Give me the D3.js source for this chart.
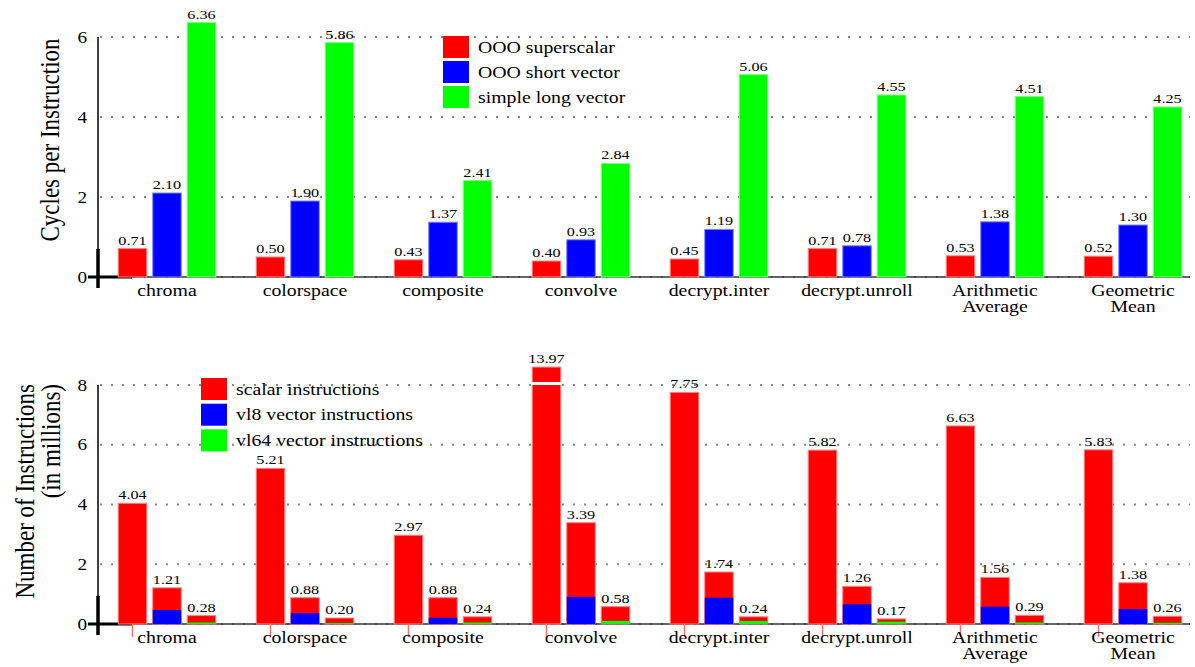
<!DOCTYPE html>
<html><head><meta charset="utf-8">
<script src="https://cdn.jsdelivr.net/npm/d3@7"></script>
<style>
body{margin:0;background:#fff;}
svg text{font-family:"Liberation Serif","Times New Roman",serif;fill:#000;}
</style></head>
<body><svg id="c" width="1195" height="667"></svg>
<script>
// ---------- data ----------
const categories = ["chroma","colorspace","composite","convolve","decrypt.inter","decrypt.unroll","Arithmetic\nAverage","Geometric\nMean"];

const cpiSeries = ["OOO superscalar","OOO short vector","simple long vector"];
const cpiSuperscalar = [0.71,0.50,0.43,0.40,0.45,0.71,0.53,0.52];
const cpiShortVector = [2.10,1.90,1.37,0.93,1.19,0.78,1.38,1.30];
const cpiLongVector  = [6.36,5.86,2.41,2.84,5.06,4.55,4.51,4.25];
const cpiTicks = [0,2,4,6];

const instLegend = ["scalar instructions","vl8 vector instructions","vl64 vector instructions"];
const instScalarOnly = [4.04,5.21,2.97,13.97,7.75,5.82,6.63,5.83];
const instVl8Total   = [1.21,0.88,0.88,3.39,1.74,1.26,1.56,1.38];
const instVl8Vector  = [0.47,0.36,0.21,0.91,0.88,0.66,0.58,0.50];
const instVl64Total  = [0.28,0.20,0.24,0.58,0.24,0.17,0.29,0.26];
const instVl64Vector = [0.05,0.03,0.05,0.10,0.10,0.08,0.05,0.04];
const instTicks = [0,2,4,6,8];
const instCap = 8.6, instBreak = 8.05;

const colors = ["#ff0000","#0000ff","#00ff00"];
const strokes = ["#ff8080","#8080ff","#80ff80"];

// ---------- layout ----------
const SX = 1.2; // horizontal stretch of glyphs
const svg = d3.select("#c");
const xLeft = 98, xRight = 1202, lineEnd = 1190;
const x = d3.scaleBand().domain(categories).range([xLeft, xRight]).paddingInner(0.2935).paddingOuter(0.1467);
const xs = d3.scaleBand().domain([0,1,2]).range([0, x.bandwidth()]).paddingInner(0.174).paddingOuter(0);

function place(sel, fx, fy){
  return sel.attr("transform",(d,i)=>`translate(${fx(d,i)},${fy(d,i)}) scale(${SX},1)`);
}

function frame(g, y, ticks){
  const y0 = y(0);
  g.append("g").selectAll("line").data(ticks).join("line")
    .attr("x1", xLeft+2).attr("x2", lineEnd).attr("y1", d=>y(d)).attr("y2", d=>y(d))
    .attr("stroke","#888").attr("stroke-width",2).attr("stroke-dasharray","2,9");
  place(g.append("g").selectAll("text").data(ticks).join("text"), ()=>87, d=>y(d))
    .attr("dy","0.35em").attr("text-anchor","end")
    .style("font-size","16px").text(d=>d);
  g.append("line").attr("x1",xLeft).attr("x2",xLeft).attr("y1",y(d3.max(ticks))).attr("y2",y0)
    .attr("stroke","#000").attr("stroke-width",1.5);
  g.append("line").attr("x1",88).attr("x2",lineEnd).attr("y1",y0).attr("y2",y0)
    .attr("stroke","#333").attr("stroke-width",1.5);
  g.append("line").attr("x1",xLeft).attr("x2",xLeft).attr("y1",y0-28).attr("y2",y0+11)
    .attr("stroke","#000").attr("stroke-width",3.5);
  g.append("line").attr("x1",88).attr("x2",132).attr("y1",y0).attr("y2",y0)
    .attr("stroke","#000").attr("stroke-width",3);
}

function catLabels(g, y0, dy){
  const t = place(g.append("g").selectAll("text").data(categories).join("text"),
      d=>x(d)+x.bandwidth()/2, ()=>y0+dy)
    .attr("text-anchor","middle").style("font-size","16.5px");
  t.each(function(d){
    const el = d3.select(this);
    d.split("\n").forEach((s,i)=>el.append("tspan").attr("x",0).attr("dy", i? "1em":0).text(s));
  });
}

function legend(g, x0, y0, names, step){
  const l = g.append("g").selectAll("g").data(names).join("g")
    .attr("transform",(d,i)=>`translate(${x0},${y0+i*step})`);
  l.append("rect").attr("width",26).attr("height",22).attr("fill",(d,i)=>colors[i]);
  l.append("text").attr("transform",`translate(35,11) scale(${SX},1)`).attr("dy","0.35em")
    .style("font-size","16.5px").text(d=>d);
}

// ---------- top chart ----------
const yT = d3.scaleLinear().domain([0,6]).range([277,37]);
const gT = svg.append("g");
frame(gT, yT, cpiTicks);
const cpiData = categories.map((c,i)=>[cpiSuperscalar[i],cpiShortVector[i],cpiLongVector[i]].map((v,k)=>({c,k,v})));
const grpT = gT.append("g").selectAll("g").data(cpiData).join("g").attr("transform",d=>`translate(${x(d[0].c)},0)`);
grpT.selectAll("rect").data(d=>d).join("rect")
  .attr("x",d=>xs(d.k)).attr("width",xs.bandwidth())
  .attr("y",d=>yT(d.v)).attr("height",d=>yT(0)-yT(d.v))
  .attr("fill",d=>colors[d.k]).attr("stroke",d=>strokes[d.k]).attr("stroke-width",1);
place(grpT.selectAll("text").data(d=>d).join("text"), d=>xs(d.k)+xs.bandwidth()/2, d=>yT(d.v)-4)
  .attr("text-anchor","middle").style("font-size","13.5px").text(d=>d.v.toFixed(2));
catLabels(gT, 277, 19);
legend(gT, 443, 36, cpiSeries, 25);
gT.append("text").attr("transform",`translate(59,140) scale(${SX},1) rotate(-90)`).attr("text-anchor","middle")
  .style("font-size","23px").text("Cycles per Instruction");

// ---------- bottom chart ----------
const yB = d3.scaleLinear().domain([0,8]).range([624,385]);
const gB = svg.append("g");
frame(gB, yB, instTicks);
const instData = categories.map((c,i)=>[
  {c,k:0,total:instScalarOnly[i],vec:0,vc:0},
  {c,k:1,total:instVl8Total[i],vec:instVl8Vector[i],vc:1},
  {c,k:2,total:instVl64Total[i],vec:instVl64Vector[i],vc:2}]);
const grpB = gB.append("g").selectAll("g").data(instData).join("g").attr("transform",d=>`translate(${x(d[0].c)},0)`);
grpB.append("line").attr("x1",xs(0)+xs.bandwidth()/2).attr("x2",xs(0)+xs.bandwidth()/2)
  .attr("y1",yB(0)).attr("y2",yB(0)+13).attr("stroke","#ff7070").attr("stroke-width",1.5);
const bar = grpB.selectAll("g.b").data(d=>d).join("g").attr("class","b");
bar.append("rect")
  .attr("x",d=>xs(d.k)).attr("width",xs.bandwidth())
  .attr("y",d=>yB(Math.min(d.total,instCap))).attr("height",d=>yB(0)-yB(Math.min(d.total,instCap)))
  .attr("fill",colors[0]).attr("stroke",strokes[0]).attr("stroke-width",1);
bar.filter(d=>d.vec>0).append("rect")
  .attr("x",d=>xs(d.k)).attr("width",xs.bandwidth())
  .attr("y",d=>yB(d.vec)).attr("height",d=>yB(0)-yB(d.vec))
  .attr("fill",d=>colors[d.vc]);
bar.filter(d=>d.total>instCap).append("rect")
  .attr("x",d=>xs(d.k)-1).attr("width",xs.bandwidth()+2)
  .attr("y",yB(instBreak)-1.5).attr("height",3).attr("fill","#fff");
place(bar.append("text"), d=>xs(d.k)+xs.bandwidth()/2, d=>yB(Math.min(d.total,instCap))-4)
  .attr("text-anchor","middle").style("font-size","13.5px").text(d=>d.total.toFixed(2));
catLabels(gB, 624, 19);
legend(gB, 201, 378, instLegend, 25.7);
const tB = gB.append("g").attr("transform",`translate(34,384) scale(${SX},1) rotate(-90)`);
tB.append("text").attr("text-anchor","end").style("font-size","23px").text("Number of Instructions");
tB.append("text").attr("y",22).attr("text-anchor","end").style("font-size","23px").text("(in millions)");
</script></body></html>
